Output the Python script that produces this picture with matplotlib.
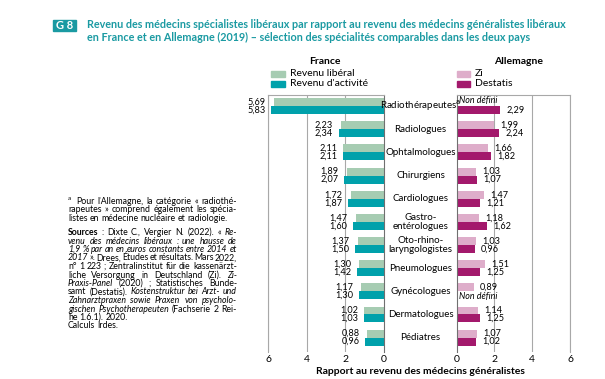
import numpy as np
import matplotlib
matplotlib.use('Agg')
import matplotlib.pyplot as plt
import matplotlib.patches as patches
import matplotlib.transforms as mtransforms

plt.rcParams['font.family'] = ['Lato', 'DejaVu Sans']

categories = ['Radiothérapeutes', 'Radiologues', 'Ophtalmologues', 'Chirurgiens',
              'Cardiologues', 'Gastro-\nentérologues', 'Oto-rhino-\nlaryngologistes',
              'Pneumologues', 'Gynécologues', 'Dermatologues', 'Pédiatres']
fr_liberal = [5.69, 2.23, 2.11, 1.89, 1.72, 1.47, 1.37, 1.30, 1.17, 1.02, 0.88]
fr_activite = [5.83, 2.34, 2.11, 2.07, 1.87, 1.60, 1.50, 1.42, 1.30, 1.03, 0.96]
de_zi = [np.nan, 1.99, 1.66, 1.03, 1.47, 1.18, 1.03, 1.51, 0.89, 1.14, 1.07]
de_destatis = [2.29, 2.24, 1.82, 1.07, 1.21, 1.62, 0.96, 1.25, np.nan, 1.25, 1.02]
ticks = [0, 2, 4, 6]

TEAL = '#1a9aa2'
C_LIB = '#a6ccb2'
C_ACT = '#00a1ab'
C_ZI = '#deadca'
C_DE = '#a3196c'
GRID = '#a8a8a8'

W, H = 605, 379
fig = plt.figure(figsize=(W / 100, H / 100), dpi=100)
renderer = fig.canvas.get_renderer()


def fx(x):
    return x / W


def fy(y):
    return 1 - y / H


def fmt(v):
    return f'{v:.2f}'.replace('.', ',')


def fit(t, width):
    # shrink or grow a text so that it spans the given width in pixels
    w = t.get_window_extent(renderer).width
    t.set_fontsize(t.get_fontsize() * width / w)


# header
fig.patches.append(patches.Rectangle((fx(53), fy(31)), 23 / W, 11 / H,
                                     transform=fig.transFigure, color=TEAL))
fig.text(fx(64.5), fy(25.5), 'G 8', color='white', weight='bold', fontsize=8,
         ha='center', va='center')
t1 = fig.text(fx(87), fy(25), 'Revenu des médecins spécialistes libéraux par rapport au revenu '
              'des médecins généralistes libéraux', color=TEAL, weight='bold', fontsize=8, va='center')
t2 = fig.text(fx(87), fy(37.5), 'en France et en Allemagne (2019) – sélection des spécialités '
              'comparables dans les deux pays', color=TEAL, weight='bold', fontsize=8, va='center')
fit(t1, 480)
t2.set_fontsize(t1.get_fontsize())

# axes
top, bottom = 95, 352
axF = fig.add_axes([fx(268), fy(bottom), 116 / W, (bottom - top) / H])
axG = fig.add_axes([fx(456.7), fy(bottom), 113.3 / W, (bottom - top) / H])
y = np.arange(len(categories))
bh = 0.345

for ax in (axF, axG):
    ax.set_ylim(10.62, -0.48)
    ax.set_yticks([])
    ax.set_xticks(ticks)
    ax.set_xticklabels([str(t) for t in ticks], fontsize=7.5)
    ax.tick_params(axis='x', length=0, pad=2)
    ax.spines['bottom'].set_visible(False)
    for s in ('top', 'left', 'right'):
        ax.spines[s].set_color(GRID)
        ax.spines[s].set_linewidth(0.8)
    ax.set_axisbelow(True)
    for t in ticks[1:]:
        ax.axvline(t, color=GRID, lw=0.8, zorder=0)

axF.set_xlim(6, 0)
axG.set_xlim(0, 6)
axF.spines['right'].set_color('#707070')
axG.spines['left'].set_color('#707070')

axF.barh(y - bh / 2, fr_liberal, height=bh, color=C_LIB)
axF.barh(y + bh / 2, fr_activite, height=bh, color=C_ACT)
axG.barh(y - bh / 2, np.nan_to_num(de_zi), height=bh, color=C_ZI)
axG.barh(y + bh / 2, np.nan_to_num(de_destatis), height=bh, color=C_DE)

# value labels
for i in range(len(categories)):
    xm = max(fr_liberal[i], fr_activite[i])
    for v, dy in ((fr_liberal[i], -bh / 2), (fr_activite[i], bh / 2)):
        axF.annotate(fmt(v), (xm, i + dy), xytext=(-4, 0), textcoords='offset points',
                     ha='right', va='center', fontsize=6.6)
    for v, dy in ((de_zi[i], -bh / 2), (de_destatis[i], bh / 2)):
        if np.isnan(v):
            axG.annotate('Non défini', (0, i + dy * 1.3), xytext=(1.5, 0), textcoords='offset points',
                         ha='left', va='center', fontsize=6.4, style='italic')
        else:
            axG.annotate(fmt(v), (v, i + dy), xytext=(4.5, 0), textcoords='offset points',
                         ha='left', va='center', fontsize=6.6)

# category labels
trans = mtransforms.blended_transform_factory(fig.transFigure, axF.transData)
for i, c in enumerate(categories):
    label = c + '$^{\\mathrm{a}}$' if i == 0 else c
    fig.text(fx(420.5), i, label, transform=trans, ha='center', va='center',
             fontsize=7.0, linespacing=1.0)

fig.text(fx(420.5), fy(371), 'Rapport au revenu des médecins généralistes',
         ha='center', va='center', fontsize=7.5, weight='bold')

# legends
fig.text(fx(325), fy(61), 'France', ha='center', va='center', fontsize=7.5, weight='bold')
fig.text(fx(519), fy(61), 'Allemagne', ha='center', va='center', fontsize=7.5, weight='bold')
for (x0, w), items in (((271, 14), [(C_LIB, 'Revenu libéral'), (C_ACT, "Revenu d'activité")]),
                       ((457, 13), [(C_ZI, 'Zi'), (C_DE, 'Destatis')])):
    for k, (col, lab) in enumerate(items):
        yc = 73.5 + k * 10.5
        fig.patches.append(patches.Rectangle((fx(x0), fy(yc + 3)), w / W, 6 / H,
                                             transform=fig.transFigure, color=col))
        fig.text(fx(x0 + w + 5), fy(yc), lab, ha='left', va='center', fontsize=7.5)

# footnote with mixed styles, justified
FS = 6.3


def parse(line):
    italic = bold = False
    words = []
    for tok in line.split(' '):
        pieces, cur = [], ''
        for ch in tok:
            if ch in '_#':
                if cur:
                    pieces.append((cur, italic, bold))
                    cur = ''
                if ch == '_':
                    italic = not italic
                else:
                    bold = not bold
            else:
                cur += ch
        if cur:
            pieces.append((cur, italic, bold))
        words.append(pieces)
    return words


def rich_line(x0, yy, line, right=None):
    words = parse(line)
    objs = []
    total = 0
    for word in words:
        wo = []
        for txt, it, bo in word:
            t = fig.text(0, fy(yy), txt, fontsize=FS, va='baseline',
                         style='italic' if it else 'normal', weight='bold' if bo else 'normal')
            w = t.get_window_extent(renderer).width
            wo.append((t, w))
            total += w
        objs.append(wo)
    gap = 2.0
    if right is not None and len(objs) > 1:
        gap = max(1.0, (right - x0 - total) / (len(objs) - 1))
    x = x0
    for wo in objs:
        for t, w in wo:
            t.set_x(fx(x))
            x += w
        x += gap


note1 = ["Pour l'Allemagne, la catégorie « radiothé-",
         'rapeutes » comprend également les spécia-',
         'listes en médecine nucléaire et radiologie.']
note2 = ['#Sources# : Dixte C., Vergier N. (2022). « _Re-_',
         '_venu des médecins libéraux : une hausse de_',
         '_1,9 % par an en euros constants entre 2014 et_',
         '_2017_ ». Drees, Études et résultats. Mars 2022,',
         'n° 1 223 ; Zentralinstitut für die kassenärzt-',
         'liche Versorgung in Deutschland (Zi). _Zi-_',
         '_Praxis-Panel_ (2020) ; Statistisches Bunde-',
         'samt (Destatis). _Kostenstruktur bei Arzt- und_',
         '_Zahnarztpraxen sowie Praxen von psycholo-_',
         '_gischen Psychotherapeuten_ (Fachserie 2 Rei-',
         'he 1.6.1). 2020.',
         'Calculs Irdes.']

fig.text(fx(68), fy(200), 'a', fontsize=4.5, va='baseline')
for k, line in enumerate(note1):
    x0 = 76 if k == 0 else 68
    rich_line(x0, 203.5 + k * 8.5, line, right=237 if k < 2 else None)
for k, line in enumerate(note2):
    rich_line(68, 235 + k * 8.5, line, right=237 if k < 10 else None)

fig.savefig('out.png', dpi=100)
